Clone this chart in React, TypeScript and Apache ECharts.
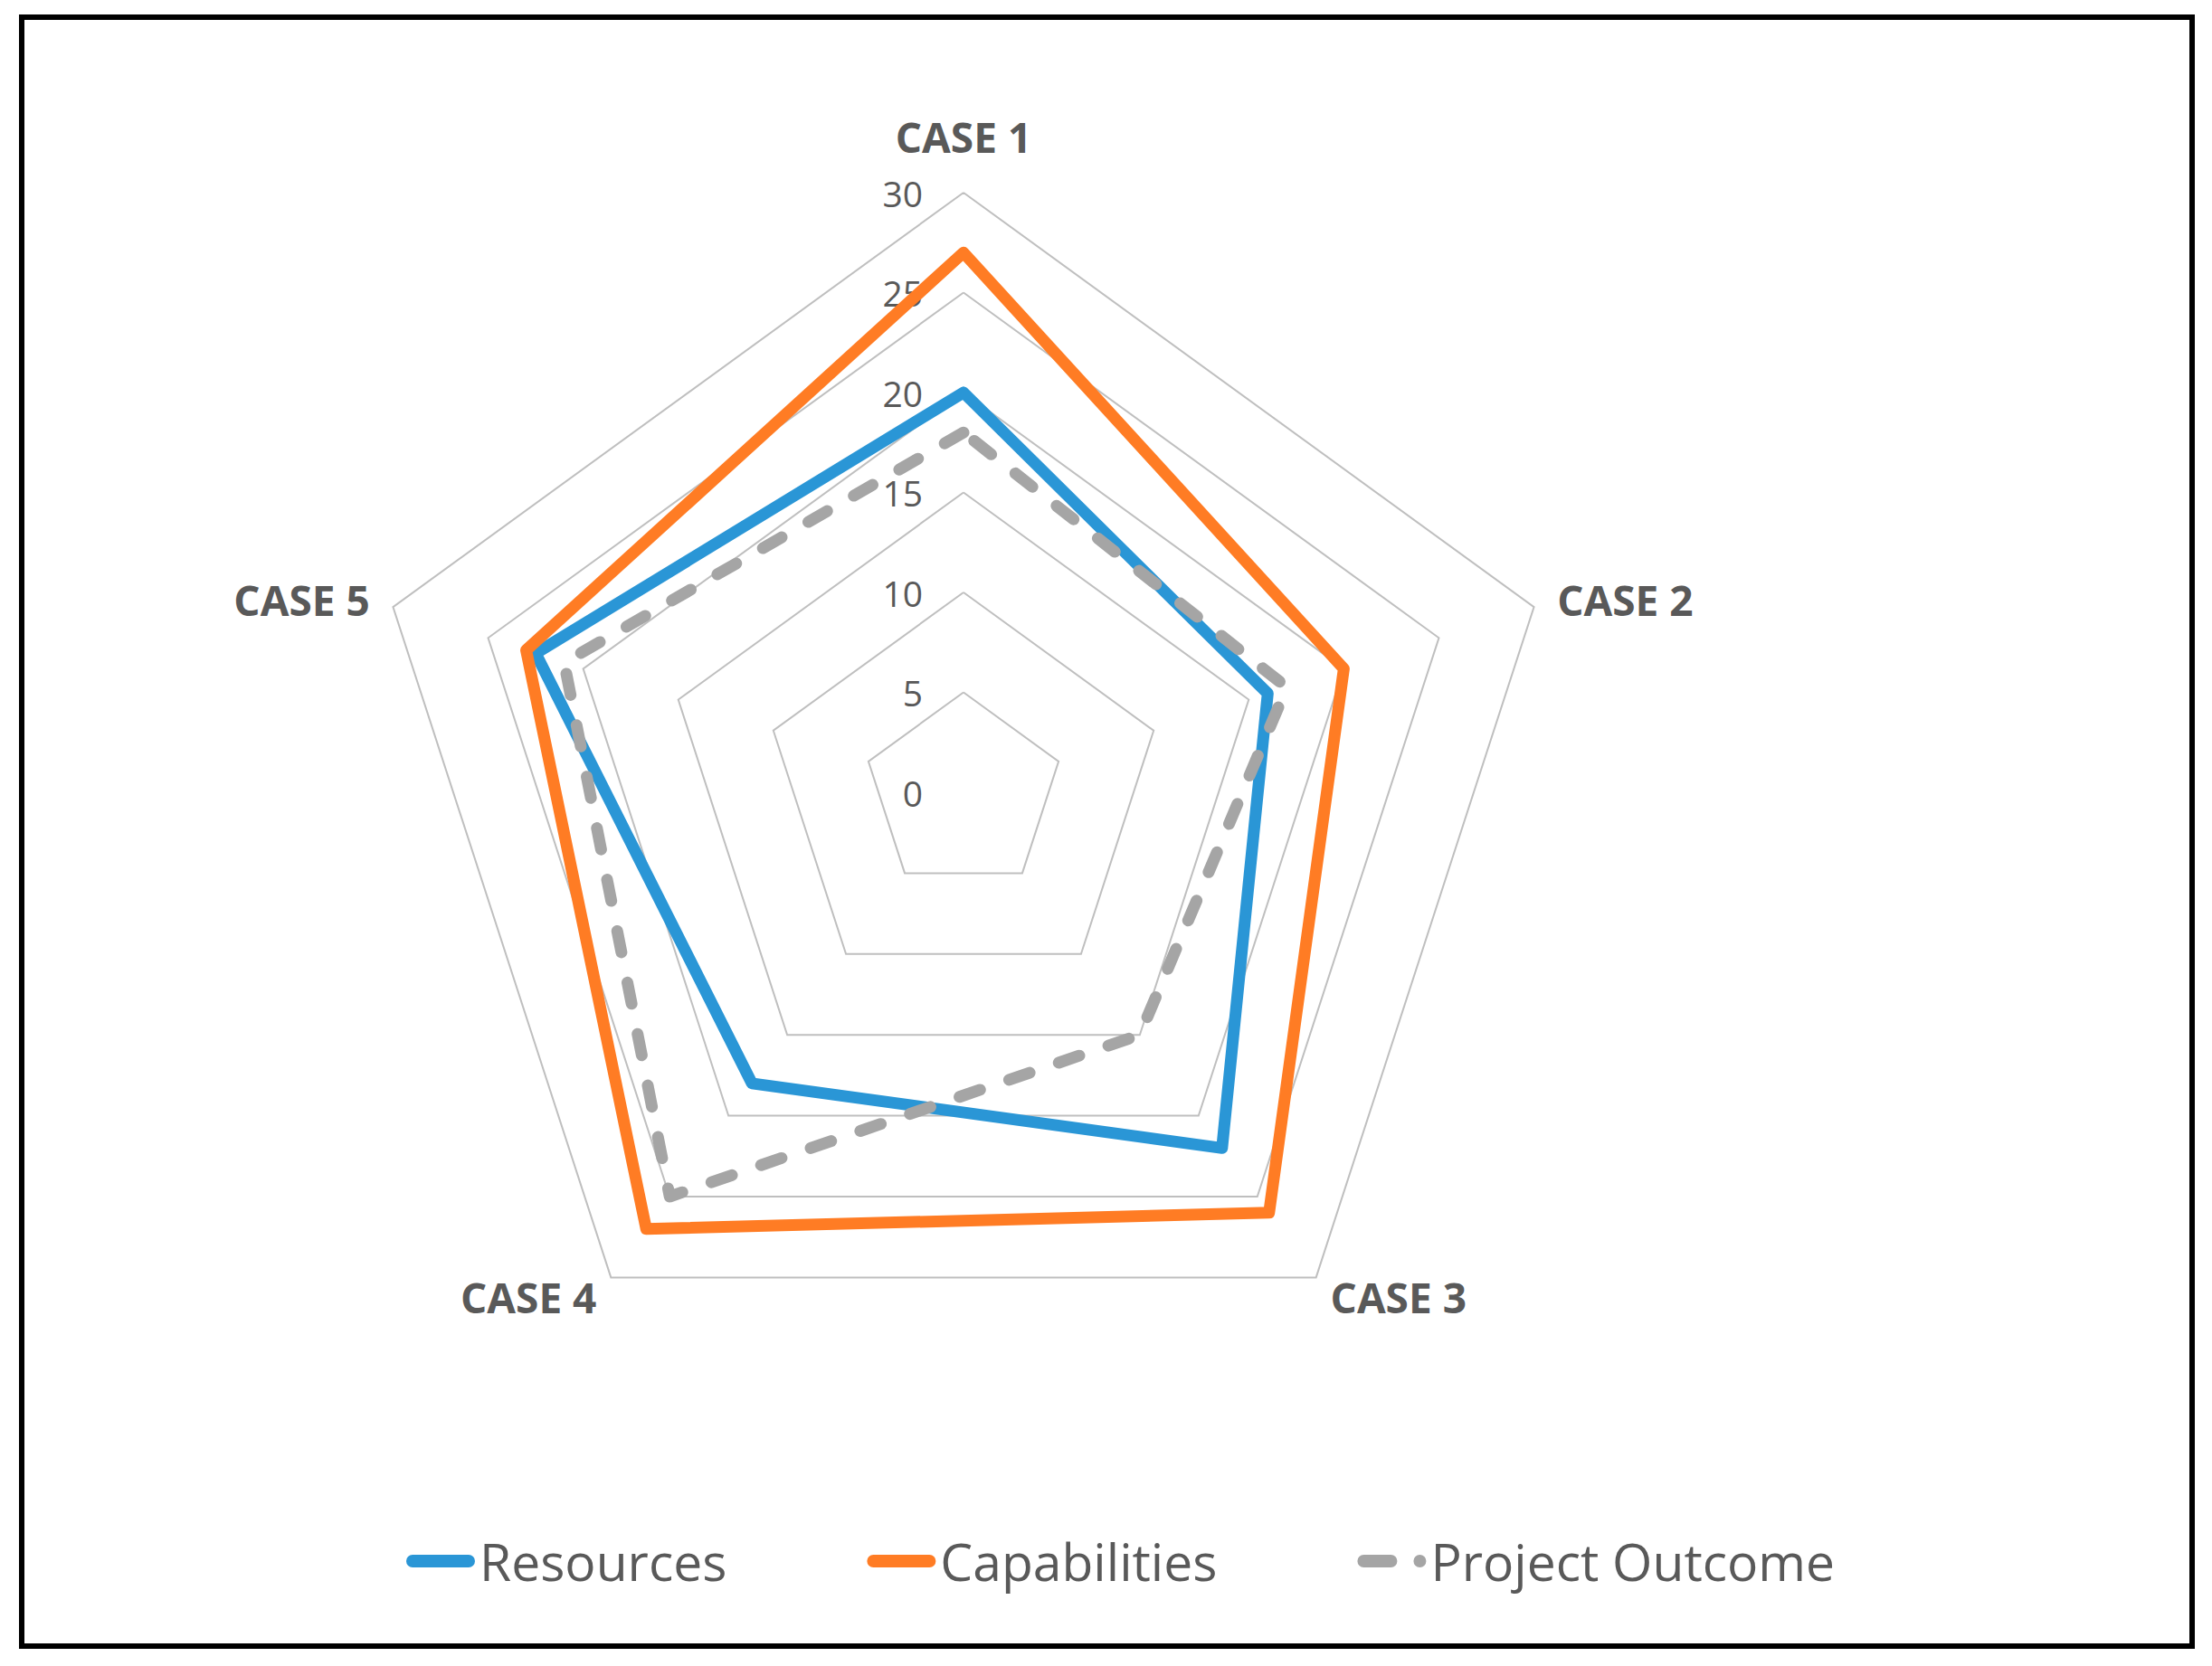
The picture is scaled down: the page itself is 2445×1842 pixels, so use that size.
import React, { useEffect, useRef } from "react";
import * as echarts from "echarts";

const categories = ["CASE 1", "CASE 2", "CASE 3", "CASE 4", "CASE 5"];
const resources = [20, 16, 22, 18, 22.5];
const capabilities = [27, 20, 26, 27, 23];
const projectOutcome = [18, 17, 15, 25, 21];
const seriesNames = ["Resources", "Capabilities", "Project Outcome"];
const seriesColors = ["#2A96D6", "#FF7C24", "#A5A5A5"];
const axisMax = 30;
const axisSplits = 6;

// ECharts lays indicators counter-clockwise; reorder so CASE 2 sits on the right.
const order = [0, 4, 3, 2, 1];

const legendIcons = [
  "path://M7,0H69A7,7 0 0 1 69,14H7A7,7 0 0 1 7,0Z",
  "path://M7,0H69A7,7 0 0 1 69,14H7A7,7 0 0 1 7,0Z",
  "path://M7,0H37A7,7 0 0 1 37,14H7A7,7 0 0 1 7,0Z M69,0A7,7 0 1 1 69,14A7,7 0 1 1 69,0Z",
];

export default function App() {
  const ref = useRef<HTMLDivElement>(null);
  useEffect(() => {
    if (!ref.current) return;
    const chart = echarts.init(ref.current, null, { renderer: "svg" });
    const values = [resources, capabilities, projectOutcome];
    const option = {
      animation: false,
      backgroundColor: "#ffffff",
      graphic: [
        {
          type: "rect",
          shape: { x: 24, y: 19, width: 2399, height: 1801 },
          style: { fill: "none", stroke: "#000000", lineWidth: 6 },
          silent: true,
        },
      ],
      legend: {
        left: 444,
        top: 1691,
        itemWidth: 76,
        itemHeight: 14,
        itemGap: 155,
        textStyle: {
          color: "#595959",
          fontSize: 57,
          fontFamily: "'Open Sans', sans-serif",
          lineHeight: 60,
        },
        data: seriesNames.map((n, i) => ({
          name: n,
          icon: legendIcons[i],
          itemStyle: { color: seriesColors[i], borderWidth: 0 },
        })),
      },
      radar: {
        center: [1065, 876],
        radius: 663,
        startAngle: 90,
        shape: "polygon",
        splitNumber: axisSplits,
        nameGap: 27,
        axisName: {
          color: "#595959",
          fontSize: 46,
          fontWeight: "bold",
          fontFamily: "'Open Sans', sans-serif",
          formatter: (name: string) =>
            name === categories[0] ? "{top|" + name + "}" : name,
          rich: {
            top: {
              color: "#595959",
              fontSize: 46,
              fontWeight: "bold",
              fontFamily: "'Open Sans', sans-serif",
              padding: [0, 0, 12, 0],
            },
          },
        },
        axisLine: { show: false },
        axisTick: { show: false },
        axisLabel: { show: false },
        splitArea: { show: false },
        splitLine: { lineStyle: { color: "#BFBFBF", width: 2 } },
        indicator: order.map((k, i) => ({
          name: categories[k],
          min: 0,
          max: axisMax,
          ...(i === 0
            ? {
                axisLabel: {
                  show: true,
                  color: "#595959",
                  fontSize: 39,
                  fontFamily: "'Open Sans', sans-serif",
                  margin: 45,
                },
              }
            : {}),
        })),
      },
      series: [
        {
          type: "radar",
          symbol: "none",
          data: seriesNames.map((n, i) => ({
            name: n,
            value: order.map((k) => values[i][k]),
            itemStyle: { color: seriesColors[i] },
            lineStyle: {
              color: seriesColors[i],
              width: 13,
              type: i === 2 ? [24, 34] : "solid",
              cap: "round",
              join: "round",
            },
          })),
        },
      ],
    };
    chart.setOption(option as any);
    return () => chart.dispose();
  }, []);
  return (
    <div
      ref={ref}
      style={{ position: "absolute", left: 0, top: 0, width: 2445, height: 1842 }}
    />
  );
}
